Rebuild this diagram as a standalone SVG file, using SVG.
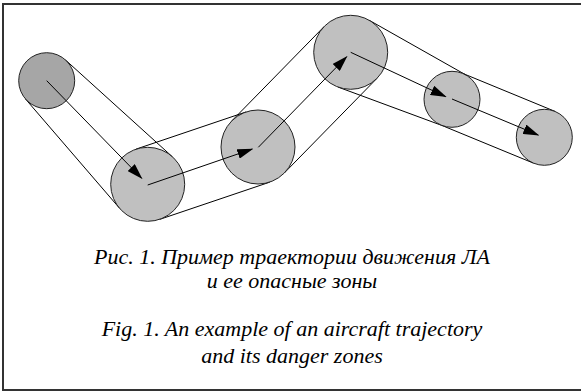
<svg xmlns="http://www.w3.org/2000/svg" width="581" height="392" viewBox="0 0 581 392">
<style>
.frame{stroke:#333;stroke-width:2;fill:none}
.tan{stroke:#000;stroke-width:1;fill:none}
.zone{fill:#c0c0c0;stroke:#222;stroke-width:1}
.zone0{fill:#a6a6a6;stroke:#222;stroke-width:1}
.arr{stroke:#000;stroke-width:1;fill:none;marker-end:url(#ah)}
.cap{font-family:'Liberation Serif','DejaVu Serif',serif;font-style:italic;font-size:22px;fill:#000;text-anchor:middle}
</style>
<defs>
<marker id="ah" markerWidth="16" markerHeight="10" refX="15" refY="5" orient="auto" markerUnits="userSpaceOnUse">
<path d="M0,0 L16,5 L0,10 z" fill="#000"/>
</marker>
</defs>
<rect width="581" height="392" fill="#fff"/>
<g id="frame">
<path class="frame" d="M581,4 H3 V390 H581"/>
</g>
<g id="connectors">
<line class="tan" x1="25.5" y1="99" x2="119.7" y2="208.4"/>
<line class="tan" x1="65.5" y1="60" x2="172.5" y2="156.9"/>
<line class="tan" x1="159.6" y1="219.4" x2="269.9" y2="182.1"/>
<line class="tan" x1="135.9" y1="149.2" x2="246.2" y2="111.9"/>
<line class="tan" x1="284.4" y1="172.9" x2="377.1" y2="78.2"/>
<line class="tan" x1="231.6" y1="121.1" x2="324.3" y2="26.4"/>
<line class="tan" x1="337.9" y1="87" x2="442.3" y2="125.6"/>
<line class="tan" x1="368.9" y1="20.1" x2="465.8" y2="74.9"/>
<line class="tan" x1="441.3" y1="125.2" x2="533.6" y2="163.2"/>
<line class="tan" x1="462.7" y1="73.4" x2="555" y2="111.4"/>
</g>
<g id="zone1"><circle class="zone0" cx="46.7" cy="80.7" r="28"/></g>
<g id="zone2"><circle class="zone" cx="147.7" cy="184.3" r="37"/></g>
<g id="zone3"><circle class="zone" cx="258" cy="147" r="37"/></g>
<g id="zone4"><circle class="zone" cx="350.7" cy="52.3" r="37"/></g>
<g id="zone5"><circle class="zone" cx="452" cy="99.3" r="28"/></g>
<g id="zone6"><circle class="zone" cx="544.3" cy="137.3" r="28"/></g>
<g id="arrows">
<line class="arr" x1="46.7" y1="80.7" x2="141.7" y2="178.3"/>
<line class="arr" x1="147.7" y1="185" x2="252.3" y2="149"/>
<line class="arr" x1="258.3" y1="147.3" x2="346.7" y2="56.7"/>
<line class="arr" x1="350.7" y1="52.3" x2="445.7" y2="96.7"/>
<line class="arr" x1="452" y1="99" x2="538.3" y2="135"/>
</g>
<g id="caption">
<text class="cap" x="292" y="264">Рис. 1. Пример траектории движения ЛА</text>
<text class="cap" x="292" y="288">и ее опасные зоны</text>
<text class="cap" x="292" y="336">Fig. 1. An example of an aircraft trajectory</text>
<text class="cap" x="292" y="363">and its danger zones</text>
</g>
</svg>
